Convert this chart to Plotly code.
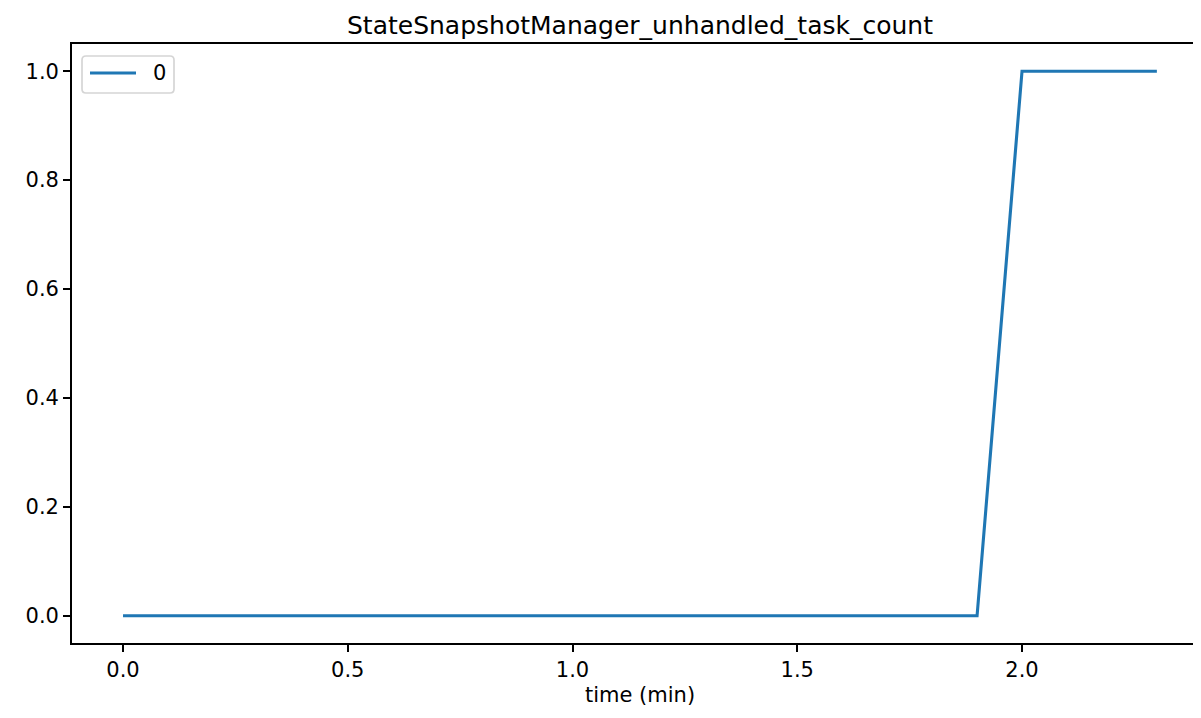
import plotly.graph_objects as go

time_min = [0.0, 0.1, 0.2, 0.3, 0.4, 0.5, 0.6, 0.7, 0.8, 0.9, 1.0, 1.1,
            1.2, 1.3, 1.4, 1.5, 1.6, 1.7, 1.8, 1.9, 2.0, 2.1, 2.2, 2.3]
series_0 = [0, 0, 0, 0, 0, 0, 0, 0, 0, 0, 0, 0,
            0, 0, 0, 0, 0, 0, 0, 0, 1, 1, 1, 1]
series_name = "0"
title = "StateSnapshotManager_unhandled_task_count"
x_label = "time (min)"
x_ticks = [0.0, 0.5, 1.0, 1.5, 2.0]
y_ticks = [0.0, 0.2, 0.4, 0.6, 0.8, 1.0]

# page body has an 8px margin; size the figure to fit the 1201x718 window
W, H = 1185, 702
L, R, T, B = 64, 0, 36, 67
PW, PH = W - L - R, H - T - B
px_per_unit = 449.5
x0 = -0.1135
x1 = x0 + PW / px_per_unit
color = "#1f77b4"

fig = go.Figure()
fig.add_trace(go.Scatter(x=time_min, y=series_0, mode="lines", name=series_name,
                         showlegend=False,
                         line=dict(color=color, width=3.1)))

fnt = dict(family="DejaVu Sans", size=21, color="black")
fig.update_layout(
    width=W, height=H,
    margin=dict(l=L, r=R, t=T, b=B),
    paper_bgcolor="white", plot_bgcolor="white",
    font=fnt,
    title=dict(text=title, x=632 / W, xref="container", xanchor="center",
               y=1 - 8 / H, yref="container", yanchor="top",
               pad=dict(t=0, b=0, l=0, r=0),
               font=dict(family="DejaVu Sans", size=25, color="black")),
    xaxis=dict(range=[x0, x1], tickvals=x_ticks, tickformat=".1f",
               showgrid=False, zeroline=False,
               showline=True, linecolor="black", linewidth=1.7, mirror=True,
               ticks="outside", ticklen=7, tickwidth=1.7, tickcolor="black"),
    yaxis=dict(range=[-0.05, 1.05], tickvals=y_ticks, tickformat=".1f",
               showgrid=False, zeroline=False,
               showline=True, linecolor="black", linewidth=1.7, mirror=False,
               ticks="outside", ticklen=7, tickwidth=1.7, tickcolor="black"),
)

# x axis label, centred on the full (clipped) matplotlib axes
fig.add_annotation(text=x_label, xref="paper", yref="paper",
                   x=(640 - 72) / PW, y=(643 - 709) / PH,
                   xanchor="center", yanchor="bottom", showarrow=False, font=fnt)

# matplotlib-style legend (rounded frame, line sample, label)
frame = ("M 14,-12 H 98 Q 102,-12 102,-16 V -45 Q 102,-49 98,-49 "
         "H 14 Q 10,-49 10,-45 V -16 Q 10,-12 14,-12 Z")
fig.add_shape(type="path", path=frame, xref="paper", yref="paper",
              xsizemode="pixel", ysizemode="pixel", xanchor=0, yanchor=1,
              line=dict(color="#d5d5d5", width=1.7), fillcolor="white", layer="above")
fig.add_shape(type="line", xref="paper", yref="paper",
              xsizemode="pixel", ysizemode="pixel", xanchor=0, yanchor=1,
              x0=18, x1=64, y0=-29, y1=-29,
              line=dict(color=color, width=3.1), layer="above")
fig.add_annotation(text=series_name, xref="paper", yref="paper",
                   x=(151 - 72) / PW, y=(643 - 73) / PH,
                   xanchor="left", yanchor="middle", showarrow=False, font=fnt)

fig.write_html("out.html")
